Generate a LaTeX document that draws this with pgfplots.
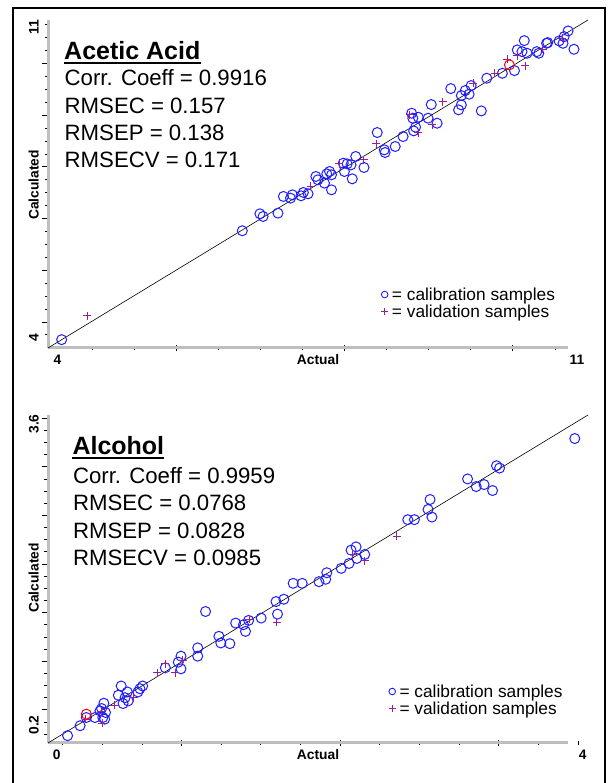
\documentclass[border=0pt]{standalone}
\usepackage{pgfplots}
\pgfplotsset{compat=1.18}
\usepackage{fontspec}
\setmainfont{Liberation Sans}
\definecolor{calblue}{RGB}{30,30,255}
\definecolor{valpurple}{RGB}{150,30,150}
\definecolor{axgray}{RGB}{190,190,190}
\newcommand\statfont{\fontsize{22.2}{26}\selectfont}
\newcommand\titlefont{\fontsize{25}{27}\selectfont\bfseries}
\newcommand\tickfont{\fontsize{13.8}{14}\selectfont\bfseries}

\pgfplotstableread{
x y
4.177 4.178
6.519 6.502
6.747 6.864
6.788 6.807
6.981 6.878
7.052 7.234
7.143 7.198
7.168 7.269
7.280 7.248
7.310 7.319
7.371 7.291
7.472 7.660
7.498 7.589
7.584 7.518
7.614 7.717
7.650 7.767
7.675 7.696
7.675 7.376
7.827 7.944
7.842 7.767
7.878 7.930
7.928 7.909
7.944 7.610
7.989 8.087
8.096 7.852
8.268 8.598
8.359 8.229
8.370 8.172
8.501 8.300
8.603 8.513
8.714 9.010
8.729 8.904
8.740 8.634
8.765 8.712
8.800 8.925
8.927 8.904
8.968 9.195
9.044 8.797
9.221 9.536
9.322 9.082
9.358 9.188
9.358 9.387
9.409 9.494
9.459 9.416
9.485 9.600
9.617 9.060
9.688 9.757
9.890 9.863
10.047 9.920
10.083 10.361
10.144 10.325
10.174 10.560
10.210 10.290
10.336 10.325
10.362 10.290
10.463 10.503
10.478 10.517
10.625 10.553
10.676 10.503
10.691 10.645
10.742 10.766
10.818 10.375
}\acetcal

\pgfplotstableread{
x y
4.507 4.689
7.406 7.447
7.776 7.930
8.096 8.015
8.258 8.357
8.689 8.975
8.800 8.598
8.983 8.762
9.120 9.259
9.510 9.650
9.794 9.863
9.956 10.162
10.083 10.240
10.184 10.020
10.412 10.375
10.666 10.610
}\acetval

\pgfplotstableread{
x y
0.145 0.276
0.238 0.379
0.284 0.464
0.348 0.464
0.385 0.533
0.397 0.557
0.406 0.464
0.420 0.447
0.414 0.612
0.426 0.516
0.521 0.695
0.542 0.791
0.556 0.609
0.571 0.670
0.588 0.729
0.594 0.636
0.666 0.729
0.681 0.763
0.701 0.791
0.869 0.980
0.965 1.038
0.985 1.100
0.985 0.969
1.109 1.186
1.109 1.100
1.167 1.563
1.266 1.306
1.280 1.237
1.347 1.230
1.390 1.443
1.448 1.426
1.463 1.357
1.486 1.471
1.579 1.495
1.689 1.666
1.700 1.536
1.747 1.690
1.816 1.855
1.883 1.855
2.007 1.872
2.057 1.897
2.065 1.965
2.172 2.010
2.230 2.061
2.245 2.199
2.282 2.233
2.288 2.113
2.346 2.154
2.665 2.515
2.714 2.515
2.815 2.621
2.830 2.724
2.844 2.542
3.108 2.937
3.172 2.858
3.230 2.879
3.293 2.817
3.322 3.074
3.345 3.050
3.902 3.356
}\alccal

\pgfplotstableread{
x y
0.281 0.447
0.400 0.403
0.397 0.523
0.492 0.592
0.637 0.670
0.811 0.928
0.869 1.024
0.941 0.928
0.999 1.059
1.492 1.484
1.694 1.450
2.259 2.158
2.346 2.089
2.584 2.343
}\alcval

\pgfplotsset{
  panel/.style={
    scale only axis, width=540pt, height=328pt, anchor=south west,
    axis x line*=bottom, axis y line*=left,
    x axis line style={-, draw=axgray, line width=3pt, shorten >=20pt},
    y axis line style={-, draw=axgray, line width=3pt},
    xticklabels={}, yticklabels={},
    major tick length=6pt, minor tick length=3.5pt,
    tick style={black, line width=0.8pt},
    xtick align=center, ytick align=outside,
    clip=false,
    legend cell align=left,
    legend image code/.code={\draw[##1, mark size=3.3pt, line width=0.9pt] plot coordinates {(0pt,0pt)};},
    legend style={draw=none, fill=none, font=\fontsize{17.3}{17}\selectfont,
      inner sep=0pt, row sep=3pt,
      /tikz/every odd column/.append style={column sep=4pt},
      nodes={inner sep=0pt}},
  },
  cal/.style={only marks, mark=o, mark size=5pt, calblue, line width=1pt},
  val/.style={only marks, mark=+, mark size=4pt, valpurple, line width=1pt},
}

\begin{document}
\begin{tikzpicture}[x=1pt,y=1pt]
\path[use as bounding box] (0,0) rectangle (610,783);
\draw[line width=1.5pt] (13,-2) -- (13,775) -- (605,775) -- (605,-2);

% ---------- Acetic Acid ----------
\begin{axis}[panel, at={(48pt,435pt)},
  xmin=4, xmax=11, ymin=4, ymax=11,
  xtick={5.661,7.843,10.025},
  minor xtick={4.570,5.116,6.207,6.752,7.298,8.389,8.934,9.480,10.571},
  ytick={4.5565,5.660,6.763,7.866,8.969,10.073},
  minor ytick={4.281,4.832,5.108,5.384,5.936,6.212,6.487,7.039,7.315,7.591,8.142,8.418,8.693,9.245,9.521,9.797,10.349,10.625,10.900},
  legend style={at={(rel axis cs:0.617,0.137)}, anchor=west},
]
\addplot[black, line width=0.6pt, forget plot] coordinates {(4,4) (11,11)};
\addplot[cal] table[x=x,y=y] {\acetcal};
\addlegendentry{= calibration samples}
\addplot[val] table[x=x,y=y] {\acetval};
\addlegendentry{= validation samples}
\addplot[only marks, mark=o, mark size=5pt, red, line width=1pt, forget plot] coordinates {(9.981,10.041)};
\end{axis}

% ---------- Alcohol ----------
\begin{axis}[panel, at={(48pt,40pt)},
  xmin=0, xmax=4, ymin=0.2, ymax=3.6,
  xtick={0.99,2.1645,3.339},
  minor xtick={0.108,0.402,0.696,1.284,1.577,1.871,2.458,2.752,3.045,3.633,3.926},
  ytick={0.5434,1.047,1.551,2.055,2.559,3.063,3.567},
  minor ytick={0.2914,0.4174,0.669,0.795,0.921,1.173,1.299,1.425,1.677,1.803,1.929,2.181,2.307,2.433,2.685,2.811,2.937,3.189,3.315,3.441},
  legend style={at={(rel axis cs:0.631,0.131)}, anchor=west},
]
\addplot[black, line width=0.6pt, forget plot] coordinates {(0,0.2) (4,3.6)};
\addplot[cal] table[x=x,y=y] {\alccal};
\addlegendentry{= calibration samples}
\addplot[val] table[x=x,y=y] {\alcval};
\addlegendentry{= validation samples}
\addplot[only marks, mark=o, mark size=5pt, red, line width=1pt, forget plot] coordinates {(0.284,0.499)};
\end{axis}

% ---------- axis texts, top ----------
\node[rotate=90, anchor=base, inner sep=0] at (38.5,755.5) {\tickfont 11};
\node[rotate=90, anchor=base, inner sep=0] at (38.5,445.5) {\tickfont 4};
\node[rotate=90, anchor=base, inner sep=0] at (38.5,598) {\tickfont Calculated};
\node[anchor=base, inner sep=0] at (57.5,418.5) {\tickfont 4};
\node[anchor=base, inner sep=0] at (318,418.5) {\tickfont Actual};
\node[anchor=base, inner sep=0] at (577,418.5) {\tickfont 11};

% ---------- axis texts, bottom ----------
\node[rotate=90, anchor=base, inner sep=0] at (38.5,359) {\tickfont 3.6};
\node[rotate=90, anchor=base, inner sep=0] at (38.5,58) {\tickfont 0.2};
\node[rotate=90, anchor=base, inner sep=0] at (38.5,205) {\tickfont Calculated};
\node[anchor=base, inner sep=0] at (56.6,23.5) {\tickfont 0};
\node[anchor=base, inner sep=0] at (318,23.5) {\tickfont Actual};
\node[anchor=base, inner sep=0] at (582.7,23.5) {\tickfont 4};

% ---------- statistics, top ----------
\node[anchor=base west, inner sep=0] (t1) at (64,723) {\titlefont Acetic Acid};
\draw[line width=2pt] ([yshift=-3.3pt]t1.base west) -- ([yshift=-3.3pt]t1.base east);
\node[anchor=base west, inner sep=0] at (64.5,697) {\statfont Corr. Coeff = 0.9916};
\node[anchor=base west, inner sep=0] at (64.5,669.7) {\statfont RMSEC = 0.157};
\node[anchor=base west, inner sep=0] at (64.5,642.3) {\statfont RMSEP = 0.138};
\node[anchor=base west, inner sep=0] at (64.5,615.7) {\statfont RMSECV = 0.171};

% ---------- statistics, bottom ----------
\node[anchor=base west, inner sep=0] (t2) at (72.3,328) {\titlefont Alcohol};
\draw[line width=2pt] ([yshift=-3.3pt]t2.base west) -- ([yshift=-3.3pt]t2.base east);
\node[anchor=base west, inner sep=0] at (72.8,299.7) {\statfont Corr. Coeff = 0.9959};
\node[anchor=base west, inner sep=0] at (72.8,272) {\statfont RMSEC = 0.0768};
\node[anchor=base west, inner sep=0] at (72.8,244.7) {\statfont RMSEP = 0.0828};
\node[anchor=base west, inner sep=0] at (72.8,217.3) {\statfont RMSECV = 0.0985};
\end{tikzpicture}
\end{document}
